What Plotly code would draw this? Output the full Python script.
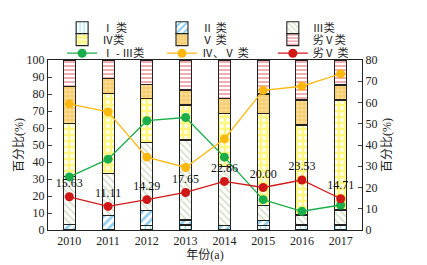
import plotly.graph_objects as go

years = ["2010", "2011", "2012", "2013", "2014", "2015", "2016", "2017"]

# stacked bar segments (left axis, %)
cls1 = [0.00, 0.00, 2.86, 2.94, 0.00, 2.86, 2.94, 2.94]
cls2 = [3.13, 8.33, 8.57, 2.94, 2.86, 2.86, 0.00, 0.00]
cls3 = [28.12, 25.00, 40.00, 47.06, 34.28, 8.57, 5.88, 8.82]
cls4 = [31.25, 47.22, 25.71, 20.59, 31.43, 54.28, 52.94, 64.71]
cls5 = [21.88, 8.33, 8.57, 8.82, 8.57, 11.43, 14.71, 8.82]
cls6 = [15.63, 11.11, 14.29, 17.65, 22.86, 20.00, 23.53, 14.71]

# line series (right axis, %)
line13 = [25.00, 33.33, 51.43, 52.94, 34.29, 14.29, 8.82, 11.76]
line45 = [59.37, 55.56, 34.29, 29.41, 42.86, 65.71, 67.65, 73.53]
line6 = [15.63, 11.11, 14.29, 17.65, 22.86, 20.00, 23.53, 14.71]

bar_names = ["Ⅰ 类", "Ⅱ 类", "Ⅲ类", "Ⅳ类", "Ⅴ 类", "劣Ⅴ类"]
line_names = ["Ⅰ - Ⅲ类", "Ⅳ、Ⅴ 类", "劣Ⅴ 类"]

FONT = "Liberation Serif, Noto Sans CJK SC, serif"

bar_styles = [
    dict(bg="white", fg="#22c8e0", shape="|", size=5, sol=0.25),
    dict(bg="white", fg="#1e9de0", shape="/", size=6, sol=0.45),
    dict(bg="white", fg="#a8bc88", shape="\\", size=5, sol=0.3),
    dict(bg="white", fg="#ffee00", shape="+", size=6, sol=0.7),
    dict(bg="#f7cd72", fg="#fff3c8", shape=".", size=4, sol=0.35),
    dict(bg="white", fg="#d84a55", shape="-", size=4, sol=0.45),
]

# legend grid (plot-area fractions): 3 columns x 3 rows
col_x = [0.045, 0.363, 0.716]
row_y = [1.19, 1.12, 1.04]
leg_ids = ["legend"] + [f"legend{i}" for i in range(2, 10)]

fig = go.Figure()
bar_data = [cls1, cls2, cls3, cls4, cls5, cls6]
for i, (name, vals, st) in enumerate(zip(bar_names, bar_data, bar_styles)):
    fig.add_trace(go.Bar(
        x=years, y=vals, name=name, width=0.31, showlegend=True,
        marker=dict(color=st["bg"],
                    line=dict(color="#222", width=1.1),
                    pattern=dict(shape=st["shape"], fgcolor=st["fg"], bgcolor=st["bg"],
                                 size=st["size"], solidity=st["sol"], fillmode="overlay")),
        legend=leg_ids[i],
        yaxis="y",
    ))

line_cols = ["#1aae4a", "#ffb810", "#d01818"]
line_data = [line13, line45, line6]
for j, (name, vals, col) in enumerate(zip(line_names, line_data, line_cols)):
    if vals is line6:
        kw = dict(mode="lines+markers+text", text=[f"{v:.2f}" for v in vals],
                  textposition="top center",
                  textfont=dict(family=FONT, size=12, color="#111"))
    else:
        kw = dict(mode="lines+markers")
    fig.add_trace(go.Scatter(
        x=years, y=vals, name=name, yaxis="y2", showlegend=True,
        line=dict(color=col, width=1.3),
        marker=dict(color=col, size=9),
        legend=leg_ids[6 + j], **kw,
    ))

leg_common = dict(orientation="h", xanchor="left", yanchor="middle",
                  bgcolor="rgba(0,0,0,0)", font=dict(family=FONT, size=11, color="#222"),
                  itemclick=False)
legends = {}
for k, lid in enumerate(leg_ids):
    legends[lid] = dict(x=col_x[k % 3], y=row_y[k // 3], **leg_common)

fig.update_layout(
    width=427, height=265,
    showlegend=True,
    margin=dict(l=48, r=65, t=60, b=35, autoexpand=False),
    paper_bgcolor="white", plot_bgcolor="white",
    barmode="stack", bargap=0.69,
    font=dict(family=FONT, size=12, color="#222"),
    xaxis=dict(showline=True, linecolor="#222", linewidth=1, mirror=True,
               ticks="", tickfont=dict(family=FONT, size=12, color="#222"),
               title=dict(text="年份(a)", font=dict(size=12), standoff=2)),
    yaxis=dict(range=[0, 100], dtick=10, showline=True, linecolor="#222", linewidth=1,
               ticks="inside", ticklen=4, showgrid=False, zeroline=False,
               tickfont=dict(family=FONT, size=12, color="#222"),
               title=dict(text="百分比(%)", font=dict(size=12), standoff=0)),
    yaxis2=dict(range=[0, 80], dtick=10, overlaying="y", side="right", showline=True,
                linecolor="#222", linewidth=1, ticks="inside", ticklen=4,
                showgrid=False, zeroline=False,
                tickfont=dict(family=FONT, size=12, color="#222"),
                title=dict(text="百分比(%)", font=dict(size=12), standoff=6)),
    **legends,
)

fig.write_html("out.html", config={"displayModeBar": False},
               post_script="document.body.style.margin='0';")
